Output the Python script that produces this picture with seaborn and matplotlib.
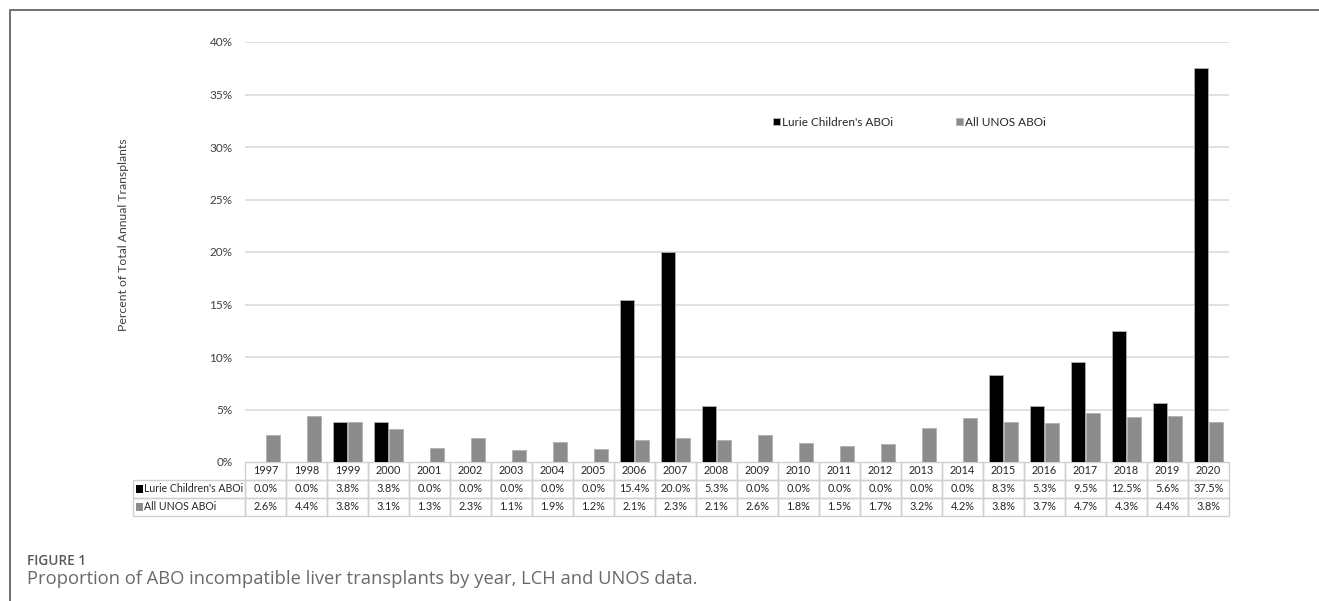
import matplotlib
matplotlib.use("Agg")
import matplotlib.pyplot as plt
from matplotlib.patches import Rectangle
from matplotlib.lines import Line2D
from matplotlib.transforms import blended_transform_factory
import pandas as pd
import seaborn as sns

years = [str(y) for y in range(1997, 2021)]
lurie = [0.0, 0.0, 3.8, 3.8, 0.0, 0.0, 0.0, 0.0, 0.0, 15.4, 20.0, 5.3,
         0.0, 0.0, 0.0, 0.0, 0.0, 0.0, 8.3, 5.3, 9.5, 12.5, 5.6, 37.5]
unos = [2.6, 4.4, 3.8, 3.1, 1.3, 2.3, 1.1, 1.9, 1.2, 2.1, 2.3, 2.1,
        2.6, 1.8, 1.5, 1.7, 3.2, 4.2, 3.8, 3.7, 4.7, 4.3, 4.4, 3.8]
series_names = ["Lurie Children's ABOi", "All UNOS ABOi"]
series_colors = ["#000000", "#8c8c8c"]
y_ticks = [0, 5, 10, 15, 20, 25, 30, 35, 40]

df = pd.DataFrame({
    "year": years * 2,
    "value": lurie + unos,
    "series": [series_names[0]] * len(years) + [series_names[1]] * len(years),
})

sns.set_style("white")
plt.rcParams["font.family"] = ["Lato", "DejaVu Sans"]

W, H = 1319, 601
fig = plt.figure(figsize=(W / 100, H / 100), dpi=100)

# plot area in pixel terms
ax_l, ax_r, ax_top, ax_bot = 245, 1229, 42, 462
ax_w = ax_r - ax_l
ax_h = ax_bot - ax_top
ax = fig.add_axes([ax_l / W, 1 - ax_bot / H, ax_w / W, ax_h / H])

sns.barplot(data=df, x="year", y="value", hue="series", order=years,
            hue_order=series_names, palette=series_colors, width=0.72, gap=0.1,
            edgecolor="#b0b0b0", linewidth=0.6, ax=ax, zorder=3)

ax.set_xlim(-0.5, len(years) - 0.5)
ax.set_ylim(0, 40)
ax.set_yticks(y_ticks)
ax.set_yticklabels([f"{t}%" for t in y_ticks], fontsize=8.5, color="#404040")
ax.tick_params(axis="y", length=0, pad=9)
ax.set_xticks([])
ax.set_xlabel("")
ax.set_ylabel("Percent of Total Annual Transplants", fontsize=8.8, color="#404040")
ax.yaxis.set_label_coords((129 - ax_l) / ax_w, (ax_bot - 235) / ax_h)
for t in y_ticks[1:]:
    ax.axhline(t, color="#d9d9d9", lw=1.1, zorder=0)
for s in ax.spines.values():
    s.set_visible(False)

# legend
ax.legend(loc="center left", bbox_to_anchor=((762 - ax_l) / ax_w, (ax_bot - 122) / ax_h),
          ncol=2, frameon=False, fontsize=8.5, handlelength=0.6, handleheight=0.6,
          handletextpad=0.2, columnspacing=5.3, labelcolor="#262626")

# data table under the plot area
row_h = 18 / ax_h
grid_c = "#d0d0d0"
txt_c = "#262626"
blend = blended_transform_factory(ax.transData, ax.transAxes)
rows = [years,
        [f"{v:.1f}%" for v in lurie],
        [f"{v:.1f}%" for v in unos]]
for r, row in enumerate(rows):
    y0 = -(r + 1) * row_h
    for i, txt in enumerate(row):
        ax.add_patch(Rectangle((i - 0.5, y0), 1, row_h, transform=blend, fill=False,
                               edgecolor=grid_c, lw=1.0, clip_on=False))
        ax.text(i, y0 + row_h / 2, txt, transform=blend, ha="center", va="center",
                fontsize=7.8, color=txt_c, clip_on=False)

lab_left = (133 - ax_l) / ax_w
for r, (name, col) in enumerate(zip(series_names, series_colors)):
    y0 = -(r + 2) * row_h
    ax.add_patch(Rectangle((lab_left, y0), -lab_left, row_h, transform=ax.transAxes,
                           fill=False, edgecolor=grid_c, lw=1.0, clip_on=False))
    ax.add_patch(Rectangle((lab_left + 3 / ax_w, y0 + 5 / ax_h), 7 / ax_w, 8 / ax_h,
                           transform=ax.transAxes, facecolor=col, edgecolor="none",
                           clip_on=False))
    ax.text(lab_left + 11 / ax_w, y0 + row_h / 2, name, transform=ax.transAxes,
            ha="left", va="center", fontsize=7.6, color=txt_c, clip_on=False)

# frame around the figure panel
fig.add_artist(Line2D([10 / W, 1], [1 - 10 / H, 1 - 10 / H], transform=fig.transFigure,
                      color="#707070", lw=1.4))
fig.add_artist(Line2D([10 / W, 10 / W], [0, 1 - 10 / H], transform=fig.transFigure,
                      color="#707070", lw=1.4))

# caption
fig.text(27 / W, 1 - 565 / H, "FIGURE 1", fontsize=9.8, fontweight="semibold",
         color="#595959", family=["Open Sans", "DejaVu Sans"], va="baseline", ha="left")
fig.text(27 / W, 1 - 584 / H,
         "Proportion of ABO incompatible liver transplants by year, LCH and UNOS data.",
         fontsize=13.2, color="#6a6a6a", family=["Open Sans", "DejaVu Sans"],
         va="baseline", ha="left")

fig.savefig("out.png", dpi=100)
